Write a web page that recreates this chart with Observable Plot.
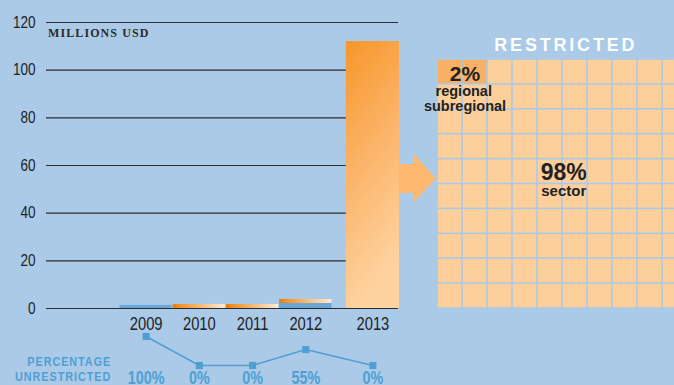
<!DOCTYPE html>
<html><head><meta charset="utf-8">
<script src="https://cdn.jsdelivr.net/npm/d3@7"></script>
<script src="https://cdn.jsdelivr.net/npm/@observablehq/plot@0.6"></script>
<style>
html,body{margin:0;padding:0;background:#aacae8;}
#chart{position:relative;width:674px;height:385px;overflow:hidden;background:#aacae8;font-family:"Liberation Sans",Arial,sans-serif;}
#chart svg{position:absolute;left:0;top:0;}
.lbl{position:absolute;white-space:nowrap;line-height:1;}
</style></head><body><div id="chart"></div>
<script>
// ---- data ----
const years = ["2009", "2010", "2011", "2012", "2013"];
const unrestricted = [1.3, 0, 0, 2.1, 0];        // millions USD
const restricted = [0, 1.7, 1.7, 1.7, 112];       // millions USD
const pctUnrestricted = [100, 0, 0, 55, 0];
const yTicks = [0, 20, 40, 60, 80, 100, 120];
const restrictedCats = ["regional subregional", "sector"];
const restrictedPct = [2, 98];

const FONT = '"Liberation Sans", Arial, sans-serif';
const chart = document.getElementById("chart");

const slot = i => i + (i === 4 ? 0.26 : 0);
const rows = years.map((year, i) => ({year, s: slot(i), u: unrestricted[i], r: restricted[i], p: pctUnrestricted[i]}));
const xScale = {type: "linear", domain: [-0.5, 4.76], range: [119, 399]};
const yearOf = new Map(rows.map(d => [d.s, d.year]));

// condense svg text horizontally (narrow face not installed)
function condense(svg, factor) {
  d3.select(svg).selectAll("text").each(function() {
    const w = this.getComputedTextLength();
    this.setAttribute("textLength", (w * factor).toFixed(2));
    this.setAttribute("lengthAdjust", "spacingAndGlyphs");
  });
}

const defsMark = () => {
  const defs = d3.create("svg:defs");
  const g1 = defs.append("linearGradient").attr("id", "gBig").attr("x1", 0).attr("y1", 0).attr("x2", 0.25).attr("y2", 1);
  g1.append("stop").attr("offset", 0).attr("stop-color", "#f7962a");
  g1.append("stop").attr("offset", 0.5).attr("stop-color", "#fbb468");
  g1.append("stop").attr("offset", 1).attr("stop-color", "#fed3a0");
  const g2 = defs.append("linearGradient").attr("id", "gSmall").attr("x1", 0).attr("y1", 0).attr("x2", 1).attr("y2", 0);
  g2.append("stop").attr("offset", 0).attr("stop-color", "#e27a0e");
  g2.append("stop").attr("offset", 0.12).attr("stop-color", "#f29024");
  g2.append("stop").attr("offset", 1).attr("stop-color", "#feebd4");
  return defs.node();
};

const bars = Plot.plot({
  width: 674, height: 385,
  marginTop: 22, marginBottom: 77, marginLeft: 46, marginRight: 276,
  style: {background: "transparent", overflow: "visible", color: "#222", fontFamily: FONT},
  x: xScale,
  y: {domain: [0, 120]},
  marks: [
    defsMark,
    Plot.ruleY(yTicks, {stroke: "#2a2d33", strokeWidth: 1.1}),
    Plot.rect(rows.filter(d => d.u > 0), {x1: d => d.s - 0.5, x2: d => d.s + 0.5, y1: 0, y2: "u", fill: "#6aa6d6", insetLeft: 0.5, insetRight: 0.5}),
    Plot.rect(rows.filter(d => d.r > 0 && d.year !== "2013"), {x1: d => d.s - 0.5, x2: d => d.s + 0.5, y1: "u", y2: d => d.u + d.r, fill: "url(#gSmall)", insetLeft: 0.5, insetRight: 0.5}),
    Plot.rect(rows.filter(d => d.year === "2013"), {x1: d => d.s - 0.5, x2: d => d.s + 0.5, y1: "u", y2: d => d.u + d.r, fill: "url(#gBig)"}),
    Plot.axisY(yTicks, {label: null, tickSize: 0, tickPadding: 11, fontSize: 16.5, fill: "#222"}),
    Plot.axisX(rows.map(d => d.s), {label: null, tickSize: 0, tickPadding: 9, fontSize: 18, fill: "#222", tickFormat: s => yearOf.get(s)})
  ]
});
chart.appendChild(bars);
condense(bars, 0.82);

const line = Plot.plot({
  width: 674, height: 385,
  style: {background: "transparent", overflow: "visible", fontFamily: FONT},
  x: {...xScale, axis: null},
  y: {domain: [0, 100], range: [365, 336], axis: null},
  marks: [
    Plot.line(rows, {x: "s", y: "p", stroke: "#4f9fd3", strokeWidth: 1.5}),
    Plot.dot(rows, {x: "s", y: "p", symbol: "square", r: 4, fill: "#4f9fd3", stroke: "none"}),
    Plot.text(rows, {x: "s", y: 0, dy: 13, text: d => d.p + "%", fill: "#4f9fd3", fontSize: 18, fontWeight: "bold"})
  ]
});
chart.appendChild(line);
condense(line, 0.8);

// waffle of restricted funds
const cells = [];
let k = 0;
restrictedCats.forEach((cat, ci) => {
  for (let j = 0; j < restrictedPct[ci]; j++, k++) cells.push({col: k % 10, row: Math.floor(k / 10), cat});
});
const waffle = Plot.plot({
  width: 674, height: 385,
  style: {background: "transparent", overflow: "visible", fontFamily: FONT, color: "#222"},
  x: {type: "linear", domain: [0, 10], range: [437, 687], axis: null},
  y: {type: "linear", domain: [0, 10], range: [59, 308], axis: null},
  marks: [
    () => d3.create("svg:path").attr("d", "M399,164H413V153L436,178.5L413,203V193H399Z").attr("fill", "#fdb96f").node(),
    Plot.rect(cells.filter(d => d.cat === "sector"), {x1: "col", x2: d => d.col + 1, y1: "row", y2: d => d.row + 1, fill: "#fdcf9b", inset: 0.8}),
    Plot.rect(cells.filter(d => d.cat !== "sector"), {x1: "col", x2: d => d.col + 1, y1: "row", y2: d => d.row + 1, fill: "#f9b064", inset: 0.8}),
    Plot.text([restrictedPct[0] + "%"], {x: 1.1, y: 0.5, dy: 2.5, fontSize: 21, fontWeight: "bold", fill: "#222"}),
    Plot.text(["regional"], {x: 1.05, y: 0.5, dy: 19.5, fontSize: 14.5, fontWeight: "bold", fill: "#222"}),
    Plot.text(["subregional"], {x: 1.1, y: 0.5, dy: 34, fontSize: 14.5, fontWeight: "bold", fill: "#222"}),
    Plot.text([restrictedPct[1] + "%"], {x: 5.05, y: 5, dy: -11, fontSize: 23, fontWeight: "bold", fill: "#222"}),
    Plot.text(["sector"], {x: 5.05, y: 5, dy: 7.5, fontSize: 15, fontWeight: "bold", fill: "#222"})
  ]
});
chart.appendChild(waffle);

function label(text, css) {
  const d = document.createElement("div");
  d.className = "lbl";
  d.innerHTML = text;
  Object.assign(d.style, css);
  chart.appendChild(d);
}
label("MILLIONS USD", {left: "48px", top: "26px", font: 'bold 12px "Liberation Serif", "Times New Roman", serif', letterSpacing: "1.1px", color: "#2b2b2b"});
label("RESTRICTED", {left: "463px", width: "200px", textAlign: "center", top: "35px", font: 'bold 18px ' + FONT, letterSpacing: "2.8px", paddingLeft: "2.8px", color: "#ffffff"});
label("PERCENTAGE<br>UNRESTRICTED", {right: "563px", top: "354px", textAlign: "right", lineHeight: "15px", font: 'bold 13.5px ' + FONT, letterSpacing: "1.2px", color: "#4f9fd3", transform: "scaleX(0.8)", transformOrigin: "right top"});
</script></body></html>
